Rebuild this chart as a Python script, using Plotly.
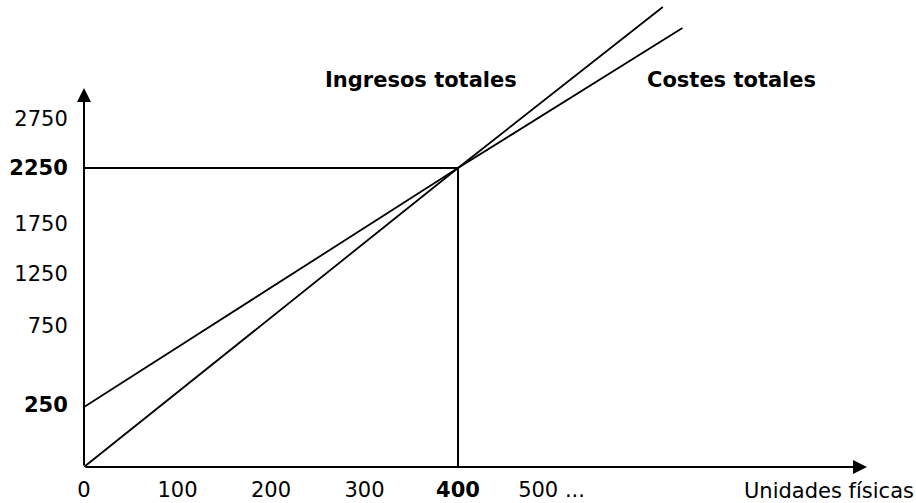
import plotly.graph_objects as go

# ---- data (schematic break-even chart, values in the drawing's own units) ----
units_x = [0, 400, 619]            # unidades físicas
ingresos_y = [0, 2250, 3461]       # ingresos totales
costes_x = [0, 400, 640]
costes_y = [451, 2250, 3303]       # costes totales (fixed cost at the origin)
break_even_units = 400
break_even_value = 2250

x_tick_vals = [0, 100, 200, 300, 400, 500]
x_tick_text = ["0", "100", "200", "300", "<b>400</b>", "500 ..."]
y_tick_text = ["<b>250</b>", "750", "1250", "1750", "<b>2250</b>", "2750"]
y_tick_vals = [467, 1061, 1452, 1829, 2250, 2619]

FONT = "DejaVu Sans"
FS = 21
BLACK = "#000000"

fig = go.Figure()

# guide lines to the break-even point
fig.add_trace(go.Scatter(x=[0, break_even_units], y=[break_even_value, break_even_value],
                         mode="lines", line=dict(color=BLACK, width=2), hoverinfo="skip"))
fig.add_trace(go.Scatter(x=[break_even_units, break_even_units], y=[0, break_even_value],
                         mode="lines", line=dict(color=BLACK, width=2), hoverinfo="skip"))
# revenue and cost lines
fig.add_trace(go.Scatter(x=units_x, y=ingresos_y, mode="lines",
                         line=dict(color=BLACK, width=1.8), name="Ingresos totales"))
fig.add_trace(go.Scatter(x=costes_x, y=costes_y, mode="lines",
                         line=dict(color=BLACK, width=1.8), name="Costes totales"))

annotations = [
    # axes drawn as arrows
    dict(x=1, y=0, xref="paper", yref="paper", ax=-783, ay=0, axref="pixel", ayref="pixel",
         text="", showarrow=True, arrowhead=2, arrowsize=1.4, arrowwidth=2, arrowcolor=BLACK),
    dict(x=0, y=0.8116, xref="paper", yref="paper", ax=0, ay=379, axref="pixel", ayref="pixel",
         text="", showarrow=True, arrowhead=2, arrowsize=1.4, arrowwidth=2, arrowcolor=BLACK),
    dict(x=0.3052, y=0.8287, xref="paper", yref="paper", xanchor="left", yanchor="middle",
         text="<b>Ingresos totales</b>", showarrow=False, font=dict(family=FONT, size=FS, color=BLACK)),
    dict(x=0.7165, y=0.8287, xref="paper", yref="paper", xanchor="left", yanchor="middle",
         text="<b>Costes totales</b>", showarrow=False, font=dict(family=FONT, size=FS, color=BLACK)),
    dict(x=0.8404, y=-0.0514, xref="paper", yref="paper", xanchor="left", yanchor="middle",
         text="Unidades físicas", showarrow=False, font=dict(family=FONT, size=FS, color=BLACK)),
]

fig.update_layout(
    template="none",
    width=916, height=503, autosize=False,
    margin=dict(l=84, r=49, t=0, b=36, pad=0),
    paper_bgcolor="white", plot_bgcolor="white",
    showlegend=False,
    font=dict(family=FONT, size=FS, color=BLACK),
    annotations=annotations,
    xaxis=dict(range=[0, 837.4], automargin=False, showgrid=False, zeroline=False, showline=False,
               tickmode="array", tickvals=x_tick_vals, ticktext=x_tick_text,
               ticks="outside", ticklen=4, tickcolor="rgba(0,0,0,0)",
               tickfont=dict(family=FONT, size=FS, color=BLACK), fixedrange=True),
    yaxis=dict(range=[0, 3514.2], automargin=False, showgrid=False, zeroline=False, showline=False,
               tickmode="array", tickvals=y_tick_vals, ticktext=y_tick_text,
               ticks="outside", ticklen=11, tickcolor="rgba(0,0,0,0)",
               tickfont=dict(family=FONT, size=FS, color=BLACK), fixedrange=True),
)

fig.write_html("out.html", config={"displayModeBar": False},
               post_script="document.body.style.margin='0px';document.body.style.overflow='hidden';")
